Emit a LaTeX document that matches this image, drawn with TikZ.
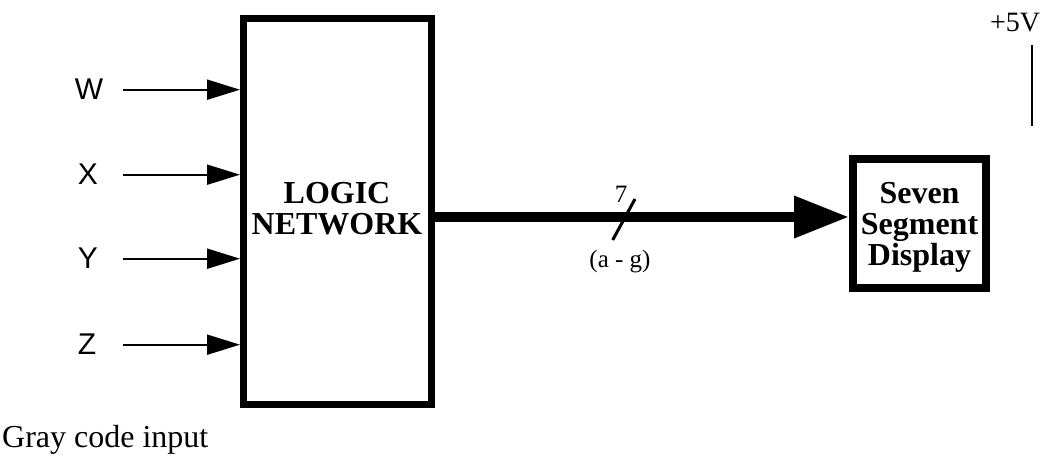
\documentclass[tikz,border=0pt]{standalone}
\usepackage{fontspec}
\setmainfont{Liberation Serif}
\newfontfamily\arialf{Liberation Sans}
\usetikzlibrary{arrows.meta}
\begin{document}
\begin{tikzpicture}[x=1pt,y=-1pt,
  inlabel/.style={font=\arialf\fontsize{30}{30}\selectfont, anchor=base, inner sep=0pt},
  inarrow/.style={line width=2pt, -{Triangle[length=33pt,width=20pt]}},
  blockbox/.style={draw, inner sep=0pt},
  boldtext/.style={font=\bfseries\fontsize{32}{31}\selectfont, align=center, inner sep=0pt},
  bus/.style={line width=10pt, -{Triangle[length=55pt,width=40pt]}},
  small/.style={font=\fontsize{25}{25}\selectfont, inner sep=0pt}]
\useasboundingbox (0,0) rectangle (1055,462);
% logic network block
\node[blockbox, line width=7pt, minimum width=188pt, minimum height=386pt] (logic) at (337.5,211.5) {};
\node[boldtext] (logictext) at (337,209) {LOGIC\\NETWORK};
% inputs
\node[inlabel] (W) at (89,100) {W};
\node[inlabel] (X) at (88,185) {X};
\node[inlabel] (Y) at (88,269) {Y};
\node[inlabel] (Z) at (87,355) {Z};
\foreach \n in {W,X,Y,Z}
  \draw[inarrow] ([xshift=35pt]\n.center -| 88,0) -- (\n.center -| logic.west);
% seven segment display
\node[blockbox, line width=8pt, minimum width=133pt, minimum height=129pt] (seg) at (919.5,223.5) {};
\node[boldtext] (segtext) at (919.5,227) {Seven\\Segment\\Display};
% bus
\draw[bus] ([yshift=-5.5pt]logic.east) coordinate (b0) -- (b0 -| seg.west);
\coordinate (s1) at (612.7,240);
\coordinate (s2) at (635,199);
\draw[line width=3pt] (s1) -- (s2);
\node[small, anchor=base] (seven) at (621,203) {7};
\node[small, anchor=base] (ag) at (620,268) {(a - g)};
% +5V
\node[font=\fontsize{28}{28}\selectfont, anchor=base, inner sep=0pt] (vcc) at (1015,32) {+5V};
\coordinate (v1) at (1031.7,45);
\coordinate (v2) at (1031.7,126);
\draw[line width=2pt] (v1) -- (v2);
% caption
\node[font=\fontsize{32}{32}\selectfont, anchor=base west, inner sep=0pt] (caption) at (2,447) {Gray code input};
\end{tikzpicture}
\end{document}
